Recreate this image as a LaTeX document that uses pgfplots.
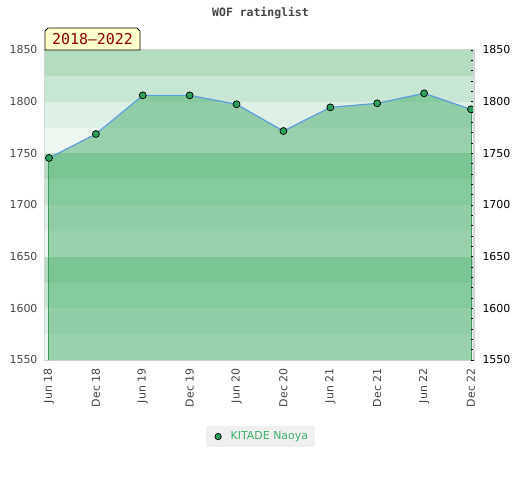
\documentclass[border=0pt]{standalone}
\usepackage{pgfplots}
\pgfplotsset{compat=1.18}
\usepackage{fontspec}
\setmainfont{DejaVu Sans}
\newfontfamily\monofont{DejaVu Sans Mono}
\definecolor{bandA}{HTML}{B3DCC1}
\definecolor{bandB}{HTML}{C8E6D4}
\definecolor{bandC}{HTML}{DEEFE6}
\definecolor{bandD}{HTML}{EEF7F1}
\definecolor{fillgreen}{RGB}{67,173,107}
\definecolor{edgegreen}{HTML}{3D9A5C}
\definecolor{markgreen}{HTML}{2E9E5B}
\definecolor{linecol}{HTML}{5FA0DC}
\definecolor{labgray}{HTML}{444444}
\definecolor{framegray}{HTML}{D4D4D4}
\definecolor{legtext}{HTML}{3DB36B}
\definecolor{yearred}{HTML}{8B0000}
\definecolor{yearbg}{HTML}{FFFFCC}
\begin{document}
\begin{tikzpicture}
\path[use as bounding box] (0,0) rectangle (520bp,-480bp);
\begin{axis}[
  at={(45bp,-360bp)}, anchor=south west,
  scale only axis, width=429bp, height=310bp,
  xmin=-0.085, xmax=9.064, ymin=1550, ymax=1850,
  xtick={0,...,9},
  xticklabels={Jun 18,Dec 18,Jun 19,Dec 19,Jun 20,Dec 20,Jun 21,Dec 21,Jun 22,Dec 22},
  ytick={1550,1600,...,1850},
  major tick length=0pt,
  axis line style={draw=framegray, line width=1.2bp},
  /pgf/number format/assume math mode=true,
  /pgf/number format/1000 sep={},
  tick label style={font=\fontsize{11}{13}\selectfont, text=labgray},
  xticklabel style={rotate=90, anchor=east, yshift=0bp, xshift=-5bp},
  yticklabel style={xshift=-4bp},
  legend style={at={(0.502,-0.247)}, anchor=center, fill=black!6, draw=none,
    font=\fontsize{11}{13}\selectfont, text=legtext, inner xsep=4.5bp, inner ysep=4bp},
  legend cell align=left,
]
\fill[bandD] (axis cs:-1,1550) rectangle (axis cs:10,1575);
\fill[bandC] (axis cs:-1,1575) rectangle (axis cs:10,1600);
\fill[bandB] (axis cs:-1,1600) rectangle (axis cs:10,1625);
\fill[bandA] (axis cs:-1,1625) rectangle (axis cs:10,1650);
\fill[bandD] (axis cs:-1,1650) rectangle (axis cs:10,1675);
\fill[bandC] (axis cs:-1,1675) rectangle (axis cs:10,1700);
\fill[bandB] (axis cs:-1,1700) rectangle (axis cs:10,1725);
\fill[bandA] (axis cs:-1,1725) rectangle (axis cs:10,1750);
\fill[bandD] (axis cs:-1,1750) rectangle (axis cs:10,1775);
\fill[bandC] (axis cs:-1,1775) rectangle (axis cs:10,1800);
\fill[bandB] (axis cs:-1,1800) rectangle (axis cs:10,1825);
\fill[bandA] (axis cs:-1,1825) rectangle (axis cs:10,1850);
\addplot[forget plot, draw=none, fill=fillgreen, fill opacity=0.5] coordinates {
  (0,1550) (0,1745.5) (1,1768.7) (2,1806.1) (3,1806.1) (4,1797.5) (5,1771.6)
  (6,1794.5) (7,1798.4) (8,1808.1) (9,1792.6) (9,1550)};
\addplot[forget plot, edgegreen, line width=1bp] coordinates {(0,1550) (0,1745.5)};
\addplot[forget plot, edgegreen, line width=1bp] coordinates {(9,1550) (9,1792.6)};
\addplot[forget plot, linecol, line width=1.2bp, mark=*, mark size=3.5bp,
  mark options={fill=markgreen, draw=black, line width=0.7bp}] coordinates {
  (0,1745.5) (1,1768.7) (2,1806.1) (3,1806.1) (4,1797.5) (5,1771.6)
  (6,1794.5) (7,1798.4) (8,1808.1) (9,1792.6)};
\addlegendimage{legend image code/.code={
    \path[draw=none, fill=none] (0bp,0bp) rectangle (18bp,0.1bp);
    \path[fill=markgreen, draw=black, line width=0.7bp] (7.5bp,0bp) circle (3.2bp);}}
\addlegendentry{KITADE Naoya}
\end{axis}
\begin{axis}[
  at={(45bp,-360bp)}, anchor=south west,
  scale only axis, width=429bp, height=310bp,
  xmin=-0.085, xmax=9.064, ymin=1550, ymax=1850,
  axis x line=none,
  axis y line*=right,
  y axis line style={draw=framegray, line width=1.2bp, -},
  ytick={1550,1600,...,1850},
  minor y tick num=4,
  tick align=inside,
  major tick length=3.5bp, minor tick length=3.5bp,
  tick style={black, line width=0.8bp},
  /pgf/number format/assume math mode=true,
  /pgf/number format/1000 sep={},
  yticklabel style={font=\fontsize{11}{13}\selectfont, text=black, xshift=5bp},
]
\addplot[draw=none] coordinates {(0,1600)};
\end{axis}
\node[font=\monofont\bfseries\fontsize{11.5}{13}\selectfont, text=labgray] at (260.5bp,-13bp) {WOF ratinglist};
\filldraw[fill=yearbg, draw=black, line width=0.8bp]
  (45bp,-50bp) -- (45bp,-31bp) -- (48bp,-28bp) -- (137bp,-28bp) -- (140bp,-31bp) -- (140bp,-50bp) -- cycle;
\node[font=\monofont\fontsize{15}{17}\selectfont, text=yearred] at (92.5bp,-39.5bp) {2018–2022};
\end{tikzpicture}
\end{document}
